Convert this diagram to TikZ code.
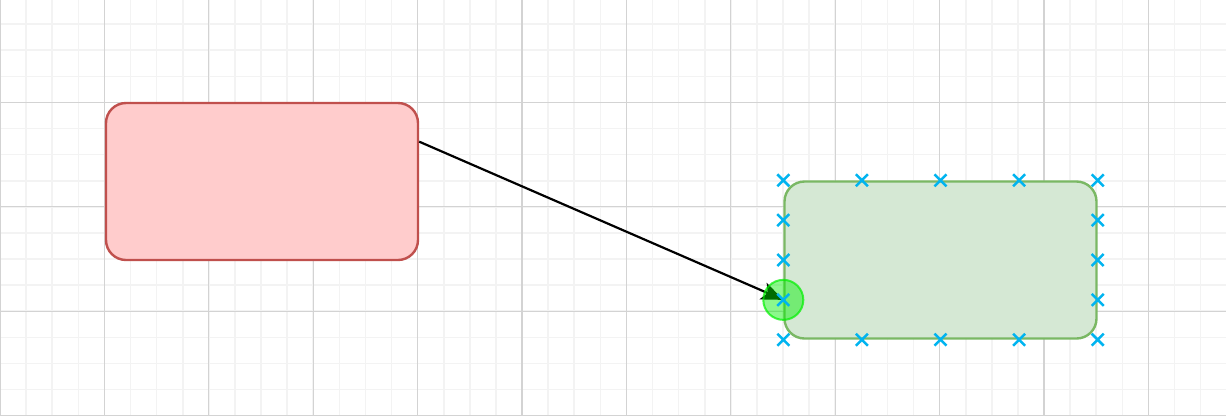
\documentclass[tikz,border=0pt]{standalone}
\usetikzlibrary{arrows.meta,calc}
\definecolor{gridminor}{HTML}{F3F3F3}
\definecolor{gridmajor}{HTML}{D3D3D3}
\definecolor{redfill}{HTML}{FFCCCC}
\definecolor{redline}{HTML}{C0504D}
\definecolor{greenfill}{HTML}{D5E8D4}
\definecolor{greenline}{HTML}{7AB864}
\definecolor{portgreen}{HTML}{00F000}
\definecolor{handleblue}{HTML}{00B4F0}

\begin{document}
\begin{tikzpicture}[x=1pt,y=-1pt,
  box/.style={rectangle,rounded corners=20pt,minimum width=312pt,minimum height=157pt,inner sep=0pt,line width=2.4pt},
  minorline/.style={gridminor,line width=1.6pt},
  majorline/.style={gridmajor,line width=1.3pt},
  link/.style={line width=2.2pt,-{Stealth[length=22pt,width=18pt,inset=5pt]}},
  portdot/.style={circle,minimum size=40pt,inner sep=0pt,fill=portgreen,fill opacity=0.45,draw=portgreen,draw opacity=0.7,line width=2pt},
  xhandle/.style={handleblue,line width=2.5pt}]
  \useasboundingbox (0,0) rectangle (1226,416);
  \fill[white] (0,0) rectangle (1226,416);
  \foreach \i in {0,...,47} \draw[minorline] (\i*26.1,0) -- (\i*26.1,416);
  \foreach \j in {0,...,16} \draw[minorline] (0,-2+\j*26.1) -- (1226,-2+\j*26.1);
  \foreach \i in {0,...,11} \draw[majorline] (\i*104.4,0) -- (\i*104.4,416);
  \foreach \j in {0,...,4} \draw[majorline] (0,-2+\j*104.4) -- (1226,-2+\j*104.4);

  \node[box,draw=redline,fill=redfill] (src) at (262,181.5) {};
  \node[box,draw=greenline,fill=greenfill] (dst) at (940.5,260) {};
  \coordinate (srcport) at ($(src.north east)!0.25!(src.south east)$);
  \coordinate (dstport) at ($(dst.west)!0.5!(dst.south west)$);

  \draw[link] (srcport) -- (dstport);
  \node[portdot] (hit) at (dstport) {};

  \foreach \f in {0,0.25,0.5,0.75,1} {
    \draw[xhandle] ($(dst.north west)!\f!(dst.north east)$) +(-6,-6) -- +(6,6) +(-6,6) -- +(6,-6);
    \draw[xhandle] ($(dst.south west)!\f!(dst.south east)$) +(-6,-6) -- +(6,6) +(-6,6) -- +(6,-6);
  }
  \foreach \f in {0.25,0.5,0.75} {
    \draw[xhandle] ($(dst.north west)!\f!(dst.south west)$) +(-6,-6) -- +(6,6) +(-6,6) -- +(6,-6);
    \draw[xhandle] ($(dst.north east)!\f!(dst.south east)$) +(-6,-6) -- +(6,6) +(-6,6) -- +(6,-6);
  }
\end{tikzpicture}
\end{document}
